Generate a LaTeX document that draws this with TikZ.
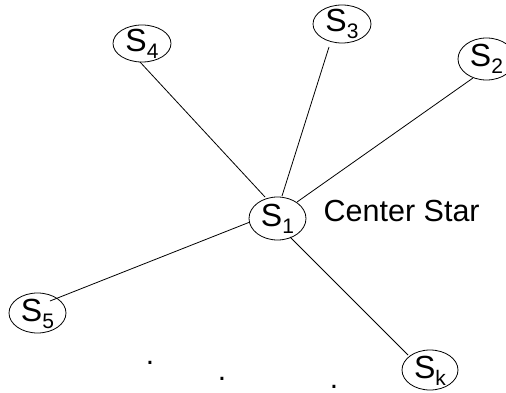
\documentclass[tikz,border=0pt]{standalone}
\usepackage{fontspec}
\setmainfont{Liberation Sans}
\usetikzlibrary{shapes.geometric,calc}
\newcommand\Ssub[1]{\raisebox{-8pt}[0pt][0pt]{\fontsize{32}{32}\selectfont S\raisebox{-7pt}{\fontsize{21}{21}\selectfont #1}}}
\tikzset{
  star/.style={draw, ellipse, line width=0.8pt, inner sep=0pt, minimum width=57pt, minimum height=40pt},
  link/.style={line width=0.8pt},
  dotmark/.style={anchor=base, inner sep=0pt, font=\fontsize{30}{30}\selectfont},
}
\begin{document}
\begin{tikzpicture}[x=1pt, y=-1pt]
\useasboundingbox (0,0) rectangle (506,393);
\node[star, minimum height=43pt] (S1) at (277.5,218.5) {\Ssub{1}};
\node[star, minimum width=58pt, minimum height=37pt] (S4) at (142,43.5) {\Ssub{4}};
\node[star, minimum width=58pt, minimum height=38pt] (S3) at (342,24) {\Ssub{3}};
\node[star, minimum height=42pt] (S2) at (486.5,59) {\Ssub{2}};
\node[star] (S5) at (37.5,313) {\Ssub{5}};
\node[star, minimum width=56pt] (Sk) at (430,370) {\Ssub{k}};
\node[anchor=base west, inner sep=0pt, font=\fontsize{30.5}{30.5}\selectfont] (cs) at (323.5,221) {Center Star};
\draw[link] ($(S1)+(-12.5,-21.5)$) -- ($(S4)+(-2,18.5)$);
\draw[link] ($(S1)+(4.5,-22.5)$) -- ($(S3)+(-13,23)$);
\draw[link] ($(S1)+(19.5,-16.5)$) -- ($(S2)+(-13.5,19)$);
\draw[link] ($(S1)+(-27.5,3.5)$) -- ($(S5)+(12.5,-12)$);
\draw[link] ($(S1)+(12.5,18.5)$) -- ($(Sk)+(-22,-15)$);
\node[dotmark] (d1) at (150,364.5) {.};
\node[dotmark] (d2) at (222,380.5) {.};
\node[dotmark] (d3) at (334,388.5) {.};
\end{tikzpicture}
\end{document}
